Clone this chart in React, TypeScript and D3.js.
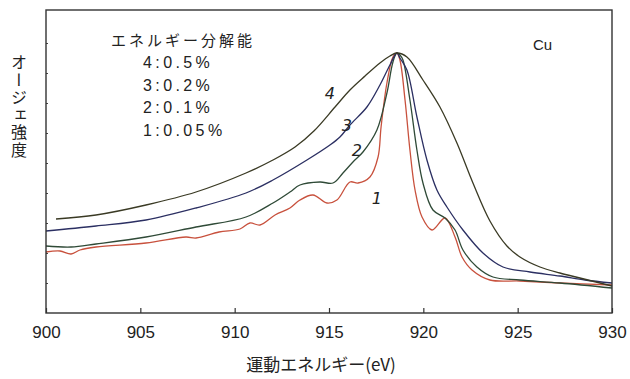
import React, { useEffect, useRef } from "react";
import * as d3 from "d3";

// Auger spectra of Cu: [kinetic energy (eV), intensity (a.u.)]
const curve1 = [
  [900.0, 61], [900.74, 62], [901.33, 59], [901.8, 63], [902.65, 66], [905.3, 70],
  [907.42, 76], [907.95, 75], [909.17, 81], [910.28, 84], [910.81, 90], [911.34, 88],
  [912.14, 98], [912.93, 105], [913.46, 113], [914.15, 118], [914.89, 110], [915.42, 113],
  [916.11, 131], [916.54, 130], [917.17, 136], [917.6, 156], [917.76, 186], [918.07, 230],
  [918.39, 256], [918.6, 260], [918.76, 253], [919.03, 213], [919.29, 163], [919.56, 123],
  [919.93, 96], [920.46, 83], [921.15, 95], [921.68, 76], [922.05, 56], [922.58, 43],
  [923.53, 33], [925.12, 32], [927.24, 30], [930.0, 28],
];
const curve2 = [
  [900.0, 67], [901.33, 66], [902.65, 69], [905.3, 76], [907.95, 86], [910.6, 96],
  [912.03, 110], [912.93, 121], [913.46, 128], [914.52, 131], [915.21, 130], [915.74, 140],
  [916.27, 151], [916.8, 161], [917.54, 183], [918.07, 220], [918.39, 251], [918.6, 260],
  [918.76, 258], [918.92, 253], [919.29, 213], [919.66, 163], [919.98, 130], [920.51, 103],
  [921.15, 95], [921.68, 83], [922.1, 63], [922.84, 46], [923.69, 36], [925.12, 33],
  [927.24, 30], [930.0, 25],
];
const curve3 = [
  [900.0, 82], [902.65, 87], [905.3, 93], [907.95, 105], [910.6, 120], [912.03, 133],
  [913.83, 153], [915.05, 168], [915.58, 176], [916.11, 188], [917.01, 206], [917.7, 228],
  [918.23, 248], [918.6, 260], [918.76, 255], [919.13, 243], [919.66, 196], [920.19, 153],
  [920.72, 123], [921.25, 106], [922.1, 83], [923.16, 60], [924.22, 46], [925.65, 41],
  [927.24, 37], [928.57, 33], [930.0, 30],
];
const curve4 = [
  [900.53, 94], [902.65, 98], [905.3, 108], [907.95, 121], [910.6, 140], [912.03, 153],
  [913.2, 166], [914.2, 182], [915.32, 206], [916.11, 223], [916.91, 237], [917.7, 250],
  [918.23, 257], [918.6, 260], [919.13, 256], [919.98, 233], [920.88, 206], [921.78, 170],
  [922.63, 130], [923.53, 92], [924.43, 67], [925.12, 56], [926.18, 46], [927.24, 40],
  [928.3, 35], [930.0, 27],
];

const series = [
  { id: "1", data: curve1, color: "#c8513d", label: [917.54, 109] },
  { id: "2", data: curve2, color: "#2f4a37", label: [916.48, 157] },
  { id: "3", data: curve3, color: "#2b2f62", label: [915.95, 182] },
  { id: "4", data: curve4, color: "#3a3a24", label: [915.05, 214] },
];

const xTicks = [900, 905, 910, 915, 920, 925, 930];
const legendTitle = "エネルギー分解能";
const legendLines = ["4:0.5%", "3:0.2%", "2:0.1%", "1:0.05%"];

const W = 630;
const H = 379;
const left = 46;
const right = 612;
const top = 10;
const bottom = 313;

const App = () => {
  const ref = useRef(null);

  useEffect(() => {
    const svg = d3.select(ref.current);
    svg.selectAll("*").remove();

    const x = d3.scaleLinear().domain([900, 930]).range([left, right]);
    const y = d3.scaleLinear().domain([0, 303]).range([bottom, top]);

    svg.append("rect").attr("width", W).attr("height", H).attr("fill", "#ffffff");

    // curves
    const line = d3
      .line()
      .x((d) => x(d[0]))
      .y((d) => y(d[1]))
      .curve(d3.curveCatmullRom.alpha(0.5));

    series.forEach((s) => {
      svg
        .append("path")
        .attr("d", line(s.data))
        .attr("fill", "none")
        .attr("stroke", s.color)
        .attr("stroke-width", 1.3)
        .attr("stroke-linejoin", "round");

      svg
        .append("text")
        .attr("x", x(s.label[0]))
        .attr("y", y(s.label[1]))
        .attr("text-anchor", "middle")
        .attr("font-family", "DejaVu Sans, sans-serif")
        .attr("font-style", "italic")
        .attr("font-size", 16)
        .attr("fill", "#222")
        .text(s.id);
    });

    // bottom axis, ticks pointing inward
    const xAxis = d3
      .axisBottom(x)
      .tickValues(xTicks)
      .tickSizeInner(-5)
      .tickSizeOuter(0)
      .tickPadding(13)
      .tickFormat(d3.format("d"));

    const gx = svg.append("g").attr("transform", `translate(0,${bottom})`).call(xAxis);
    gx.select(".domain").remove();
    gx.selectAll("line").attr("stroke", "#333").attr("stroke-width", 1.2);
    gx.selectAll("text")
      .attr("font-family", "Liberation Sans, Arial, sans-serif")
      .attr("font-size", 17)
      .attr("fill", "#222");

    // small inward ticks on the left edge
    const yAxis = d3
      .axisLeft(y)
      .tickValues(d3.range(30, 300, 30))
      .tickSizeInner(-2)
      .tickSizeOuter(0)
      .tickFormat(() => "");
    const gy = svg.append("g").attr("transform", `translate(${left},0)`).call(yAxis);
    gy.select(".domain").remove();
    gy.selectAll("line").attr("stroke", "#444").attr("stroke-width", 1);

    // frame
    svg
      .append("rect")
      .attr("x", left)
      .attr("y", top)
      .attr("width", right - left)
      .attr("height", bottom - top)
      .attr("fill", "none")
      .attr("stroke", "#333")
      .attr("stroke-width", 1.4);

    // legend
    svg
      .append("text")
      .attr("x", 183)
      .attr("y", 46)
      .attr("text-anchor", "middle")
      .attr("font-family", "Noto Sans CJK JP, sans-serif")
      .attr("font-size", 15)
      .attr("letter-spacing", 3)
      .attr("fill", "#222")
      .text(legendTitle);

    legendLines.forEach((t, i) => {
      svg
        .append("text")
        .attr("x", 143)
        .attr("y", 68 + i * 22.7)
        .attr("font-family", "Liberation Sans, Arial, sans-serif")
        .attr("font-size", 16)
        .attr("letter-spacing", 3.4)
        .attr("fill", "#222")
        .text(t);
    });

    svg
      .append("text")
      .attr("x", 533)
      .attr("y", 50)
      .attr("font-family", "Liberation Sans, Arial, sans-serif")
      .attr("font-size", 15)
      .attr("fill", "#222")
      .text("Cu");

    // axis titles
    svg
      .append("text")
      .attr("x", 321)
      .attr("y", 371)
      .attr("text-anchor", "middle")
      .attr("font-family", "Noto Sans CJK JP, sans-serif")
      .attr("font-size", 17)
      .attr("fill", "#222")
      .text("運動エネルギー(eV)");

    svg
      .append("text")
      .attr("x", 19)
      .attr("y", 54)
      .attr("font-family", "Noto Sans CJK JP, sans-serif")
      .attr("font-size", 16)
      .attr("letter-spacing", 1.5)
      .style("writing-mode", "vertical-rl")
      .attr("fill", "#222")
      .text("オージェ強度");
  }, []);

  return (
    <svg
      ref={ref}
      width={W}
      height={H}
      style={{ position: "absolute", left: 0, top: 0, display: "block" }}
    />
  );
};

export default App;
